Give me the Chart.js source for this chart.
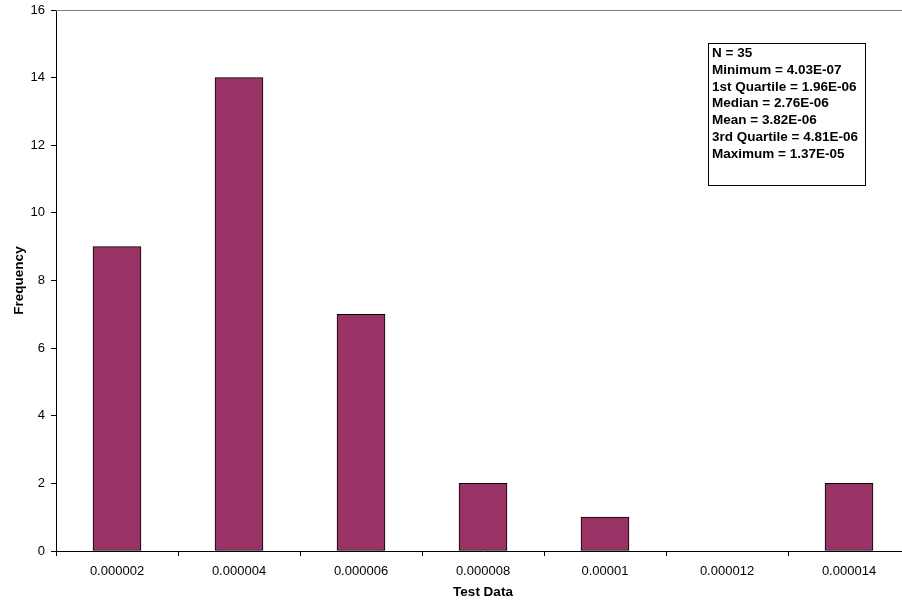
<!DOCTYPE html>
<html>
<head>
<meta charset="utf-8">
<script src="https://cdn.jsdelivr.net/npm/chart.js@4/dist/chart.umd.min.js"></script>
<style>
  html, body { margin: 0; padding: 0; background: #fff; overflow: hidden; }
  #wrap { position: absolute; left: 0; top: 0; width: 912px; height: 605px; }
</style>
</head>
<body>
<div id="wrap"><canvas id="c" width="912" height="605"></canvas></div>
<script>
const categories = ['0.000002', '0.000004', '0.000006', '0.000008', '0.00001', '0.000012', '0.000014'];
const frequency = [9, 14, 7, 2, 1, 0, 2];
const yTicks = [0, 2, 4, 6, 8, 10, 12, 14, 16];
const statsLines = [
  'N = 35',
  'Minimum = 4.03E-07',
  '1st Quartile = 1.96E-06',
  'Median = 2.76E-06',
  'Mean = 3.82E-06',
  '3rd Quartile = 4.81E-06',
  'Maximum = 1.37E-05'
];

const FONT = 'Arial, "Liberation Sans", sans-serif';

const extras = {
  id: 'extras',
  beforeDatasetsDraw(chart) {
    const { ctx, chartArea: a } = chart;
    ctx.save();
    ctx.strokeStyle = '#808080';
    ctx.lineWidth = 1;
    ctx.beginPath();
    ctx.moveTo(a.left, Math.round(a.top) + 0.5);
    ctx.lineTo(a.right, Math.round(a.top) + 0.5);
    ctx.stroke();
    ctx.restore();
  },
  afterDraw(chart) {
    const { ctx, chartArea: a } = chart;
    ctx.save();
    const bx = Math.round(a.left) + 652, by = Math.round(a.top) + 33, bw = 157, bh = 142;
    ctx.fillStyle = '#fff';
    ctx.fillRect(bx, by, bw, bh);
    ctx.strokeStyle = '#000';
    ctx.lineWidth = 1;
    ctx.strokeRect(bx + 0.5, by + 0.5, bw, bh);
    ctx.fillStyle = '#000';
    ctx.font = 'bold 13.5px ' + FONT;
    ctx.textBaseline = 'middle';
    ctx.textAlign = 'left';
    statsLines.forEach((t, i) => {
      ctx.fillText(t, bx + 4, by + 10 + i * 16.9);
    });
    ctx.restore();
  }
};

new Chart(document.getElementById('c'), {
  type: 'bar',
  data: {
    labels: categories,
    datasets: [{
      data: frequency,
      backgroundColor: '#993366',
      borderColor: '#000000',
      borderWidth: 1,
      borderSkipped: false,
      categoryPercentage: 1,
      barThickness: 48
    }]
  },
  options: {
    responsive: false,
    animation: false,
    devicePixelRatio: 1,
    layout: { padding: { top: 10, right: 2, left: 0, bottom: 0 } },
    plugins: { legend: { display: false }, tooltip: { enabled: false } },
    scales: {
      x: {
        afterFit(s) { s.height = 54; s.paddingLeft = 0; s.paddingRight = 0; },
        grid: { display: true, drawOnChartArea: false, drawTicks: true, tickLength: 5, color: '#000', offset: true },
        border: { display: true, color: '#000', width: 1 },
        ticks: { color: '#000', font: { family: FONT, size: 13 }, padding: 8, maxRotation: 0, autoSkip: false },
        title: { display: true, text: 'Test Data', color: '#000', font: { family: FONT, size: 13.5, weight: 'bold' }, padding: { top: 0, bottom: 5 } }
      },
      y: {
        min: 0, max: 16,
        afterFit(s) { s.width = 56; s.paddingTop = 0; s.paddingBottom = 0; },
        afterBuildTicks(s) { s.ticks = yTicks.map(v => ({ value: v })); },
        grid: { display: true, drawOnChartArea: false, drawTicks: true, tickLength: 5, color: '#000' },
        border: { display: true, color: '#000', width: 1 },
        ticks: { color: '#000', font: { family: FONT, size: 13 }, padding: 6 },
        title: { display: true, text: 'Frequency', color: '#000', font: { family: FONT, size: 13.5, weight: 'bold' }, padding: { top: 11, bottom: 0 } }
      }
    }
  },
  plugins: [extras]
});
</script>
</body>
</html>
